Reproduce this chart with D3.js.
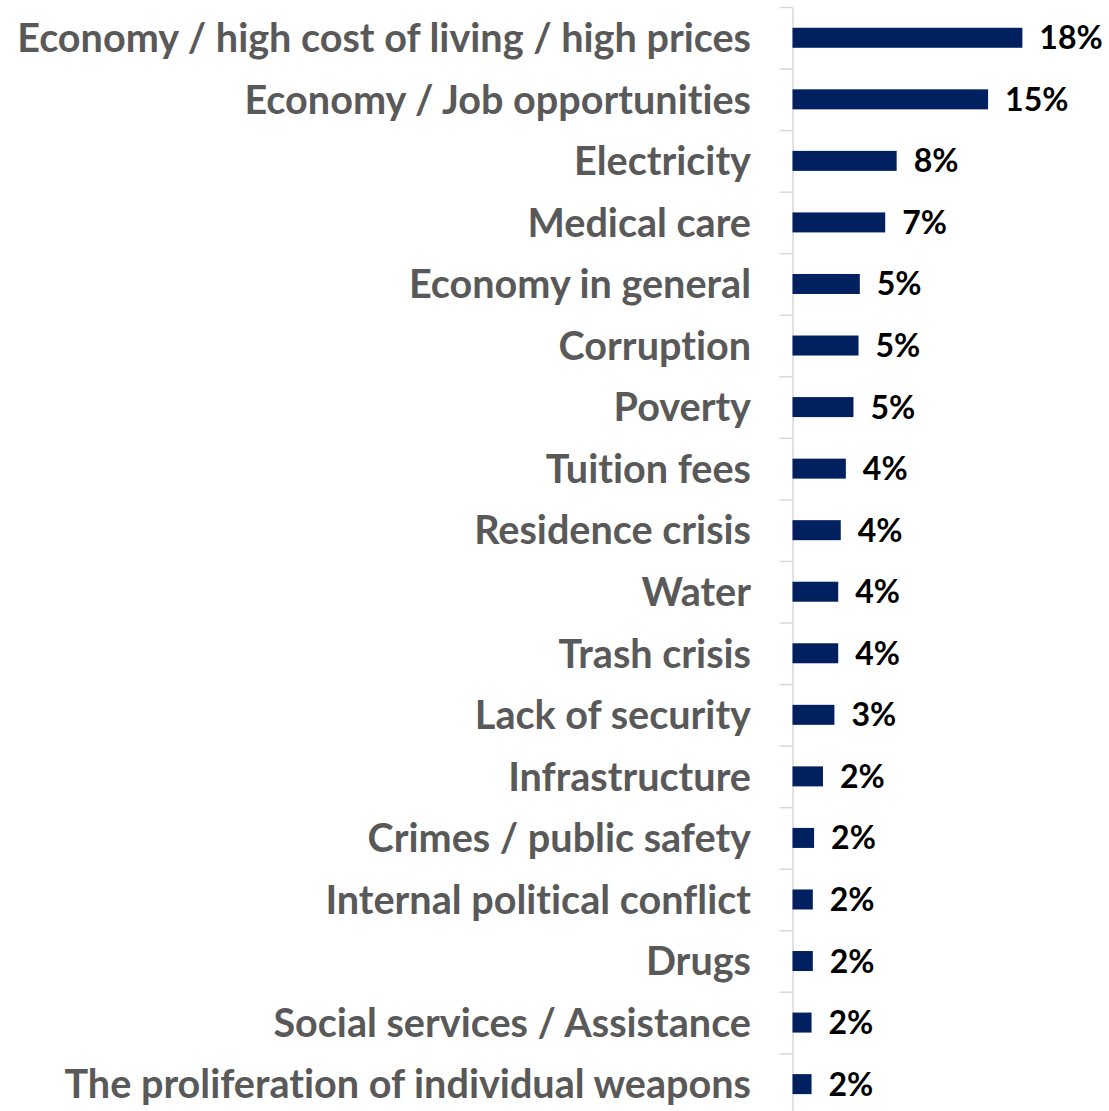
<!DOCTYPE html>
<html>
<head>
<meta charset="utf-8">
<script src="https://cdn.jsdelivr.net/npm/d3@7"></script>
<style>
  html, body { margin: 0; padding: 0; background: #ffffff; }
  svg { display: block; }
  text { font-variant-ligatures: none; font-feature-settings: "liga" 0, "clig" 0; }
</style>
</head>
<body>
<svg id="chart" width="1109" height="1111"></svg>
<script>
// Most important problems named by respondents (share of responses, %)
const categories = [
  "Economy / high cost of living / high prices",
  "Economy / Job opportunities",
  "Electricity",
  "Medical care",
  "Economy in general",
  "Corruption",
  "Poverty",
  "Tuition fees",
  "Residence crisis",
  "Water",
  "Trash crisis",
  "Lack of security",
  "Infrastructure",
  "Crimes / public safety",
  "Internal political conflict",
  "Drugs",
  "Social services / Assistance",
  "The proliferation of individual weapons"
];
const values = [18.1, 15.4, 8.2, 7.3, 5.3, 5.2, 4.8, 4.2, 3.8, 3.6, 3.6, 3.3, 2.4, 1.7, 1.6, 1.6, 1.5, 1.5];
const xDomain = [0, 20];

const svg = d3.select("#chart");
const axisX = 792.5;
const plotTop = 7;
const step = 61.55;

const x = d3.scaleLinear().domain(xDomain).range([axisX, axisX + 254]);
const y = d3.scaleBand()
  .domain(categories)
  .range([plotTop, plotTop + step * categories.length])
  .paddingInner(0.675)
  .paddingOuter(0.3375);

// Category axis: light gray spine with ticks between categories
const boundary = d3.scaleLinear()
  .domain([0, categories.length])
  .range([plotTop, plotTop + step * categories.length]);
const axisG = svg.append("g")
  .attr("transform", `translate(${axisX},0)`)
  .call(d3.axisLeft(boundary)
    .tickValues(d3.range(categories.length + 1))
    .tickFormat("")
    .tickSize(13)
    .tickSizeOuter(0));
axisG.selectAll("path, line").attr("stroke", "#d9d9d9").attr("stroke-width", 1.5);

// Bars
svg.append("g").selectAll("rect")
  .data(values)
  .join("rect")
  .attr("x", x(0))
  .attr("y", (d, i) => y(categories[i]))
  .attr("width", d => x(d) - x(0))
  .attr("height", y.bandwidth())
  .attr("fill", "#002060");

// Category labels
const labels = svg.append("g").selectAll("text")
  .data(categories)
  .join("text")
  .attr("x", 751)
  .attr("y", d => y(d) + y.bandwidth() / 2)
  .attr("dy", "0.36em")
  .attr("text-anchor", "end")
  .attr("font-family", "Lato, 'Open Sans', sans-serif")
  .attr("font-weight", "bold")
  .attr("font-size", 36)
  .attr("fill", "#595959")
  .text(d => d);

// Fit the longest label into the space left of the axis
const widest = d3.max(labels.nodes(), n => n.getComputedTextLength());
const fitSize = 36 * 734 / widest;
labels.attr("font-size", fitSize);

// Value labels
const fmt = d3.format(".0f");
svg.append("g").selectAll("text")
  .data(values)
  .join("text")
  .attr("x", d => x(d) + 17)
  .attr("y", (d, i) => y(categories[i]) + y.bandwidth() / 2)
  .attr("dy", "0.36em")
  .attr("font-family", "Lato, 'Open Sans', sans-serif")
  .attr("font-weight", "bold")
  .attr("font-size", 32)
  .attr("fill", "#000000")
  .text(d => fmt(d) + "%");
</script>
</body>
</html>
